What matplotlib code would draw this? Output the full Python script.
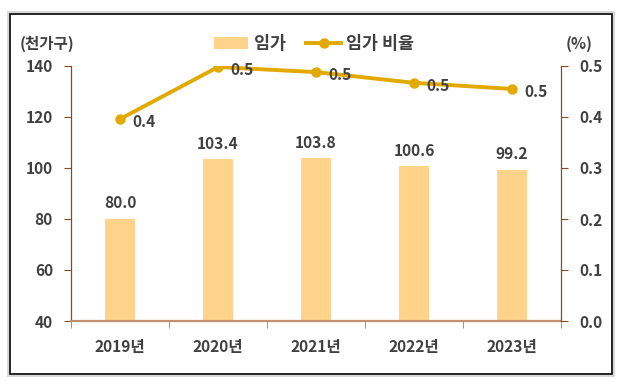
import matplotlib
matplotlib.use("Agg")
import matplotlib.pyplot as plt
from matplotlib.patches import Rectangle
import numpy as np

plt.rcParams['font.family'] = ['Noto Sans CJK KR', 'DejaVu Sans']

categories = ['2019년', '2020년', '2021년', '2022년', '2023년']
households = [80.0, 103.4, 103.8, 100.6, 99.2]
ratio = [0.396, 0.498, 0.488, 0.467, 0.455]

bar_color = '#FFD38A'
line_color = '#E2AA00'
text_color = '#404040'
spine_color = '#8B4A1E'
fs = 11.2

fig = plt.figure(figsize=(6.3, 3.89), dpi=100)
# outer frames
fig.patches.append(Rectangle((8/630, 13/389), 606/630, 364/389, transform=fig.transFigure,
                             fill=False, edgecolor='#D8D8D8', linewidth=1.5))
fig.patches.append(Rectangle((10/630, 15/389), 602/630, 360/389, transform=fig.transFigure,
                             fill=False, edgecolor='black', linewidth=1.2))

ax = fig.add_axes([71/630, 68/389, 490/630, 255/389])
x = np.arange(len(categories))
bars = ax.bar(x, households, width=0.31, color=bar_color, label='임가', zorder=2)
ax.set_xlim(-0.5, len(categories) - 0.5)
ax.set_ylim(40, 140)
ax.set_yticks(np.arange(40, 141, 20))
ax.set_xticks(x)
ax.set_xticklabels(categories)
ax.set_xticks(np.arange(-0.5, len(categories), 1), minor=True)
ax.tick_params(axis='x', which='major', length=0, pad=13, labelsize=fs, labelcolor=text_color)
ax.tick_params(axis='x', which='minor', length=5, color='#B07850', direction='out')
ax.tick_params(axis='y', length=5, color=spine_color, labelsize=fs, labelcolor=text_color, pad=8)
for lab in ax.get_xticklabels() + ax.get_yticklabels():
    lab.set_fontweight('bold')
ax.spines['top'].set_visible(False)
ax.spines['right'].set_visible(False)
ax.spines['left'].set_color(spine_color)
ax.spines['left'].set_linewidth(0.9)
ax.spines['bottom'].set_color('#C09070')
ax.spines['bottom'].set_linewidth(1.6)
for xi, v in zip(x, households):
    ax.text(xi, v + 3, f'{v:.1f}', ha='center', va='bottom', fontsize=fs,
            fontweight='bold', color=text_color)

ax2 = ax.twinx()
ax2.set_ylim(0, 0.5)
ax2.set_yticks(np.arange(0, 0.51, 0.1))
ax2.set_yticklabels([f'{t:.1f}' for t in np.arange(0, 0.51, 0.1)])
ln, = ax2.plot(x, ratio, color=line_color, linewidth=2.8, marker='o', markersize=6.5,
               label='임가 비율', zorder=3)
ax2.tick_params(axis='y', length=5, color=spine_color, labelsize=fs, labelcolor=text_color, pad=8)
for lab in ax2.get_yticklabels():
    lab.set_fontweight('bold')
for s in ['top', 'left', 'bottom']:
    ax2.spines[s].set_visible(False)
ax2.spines['right'].set_color(spine_color)
ax2.spines['right'].set_linewidth(0.9)
for xi, v in zip(x, ratio):
    ax2.annotate(f'{v:.1f}', (xi, v), xytext=(9, -2), textcoords='offset points',
                 ha='left', va='center', fontsize=fs, fontweight='bold', color=text_color)

fig.text(20/630, 1 - 44/389, '(천가구)', ha='left', va='center', fontsize=fs,
         fontweight='bold', color=text_color)
fig.text(566/630, 1 - 44/389, '(%)', ha='left', va='center', fontsize=fs,
         fontweight='bold', color=text_color)

leg = fig.legend([bars, ln], ['임가', '임가 비율'], loc='center', bbox_to_anchor=(314/630, 1 - 44/389),
                 ncol=2, frameon=False, handlelength=2.0, handletextpad=0.3,
                 columnspacing=1.2, prop={'weight': 'bold', 'size': 12.5})
for t in leg.get_texts():
    t.set_color(text_color)

fig.savefig('out.png', dpi=100)
